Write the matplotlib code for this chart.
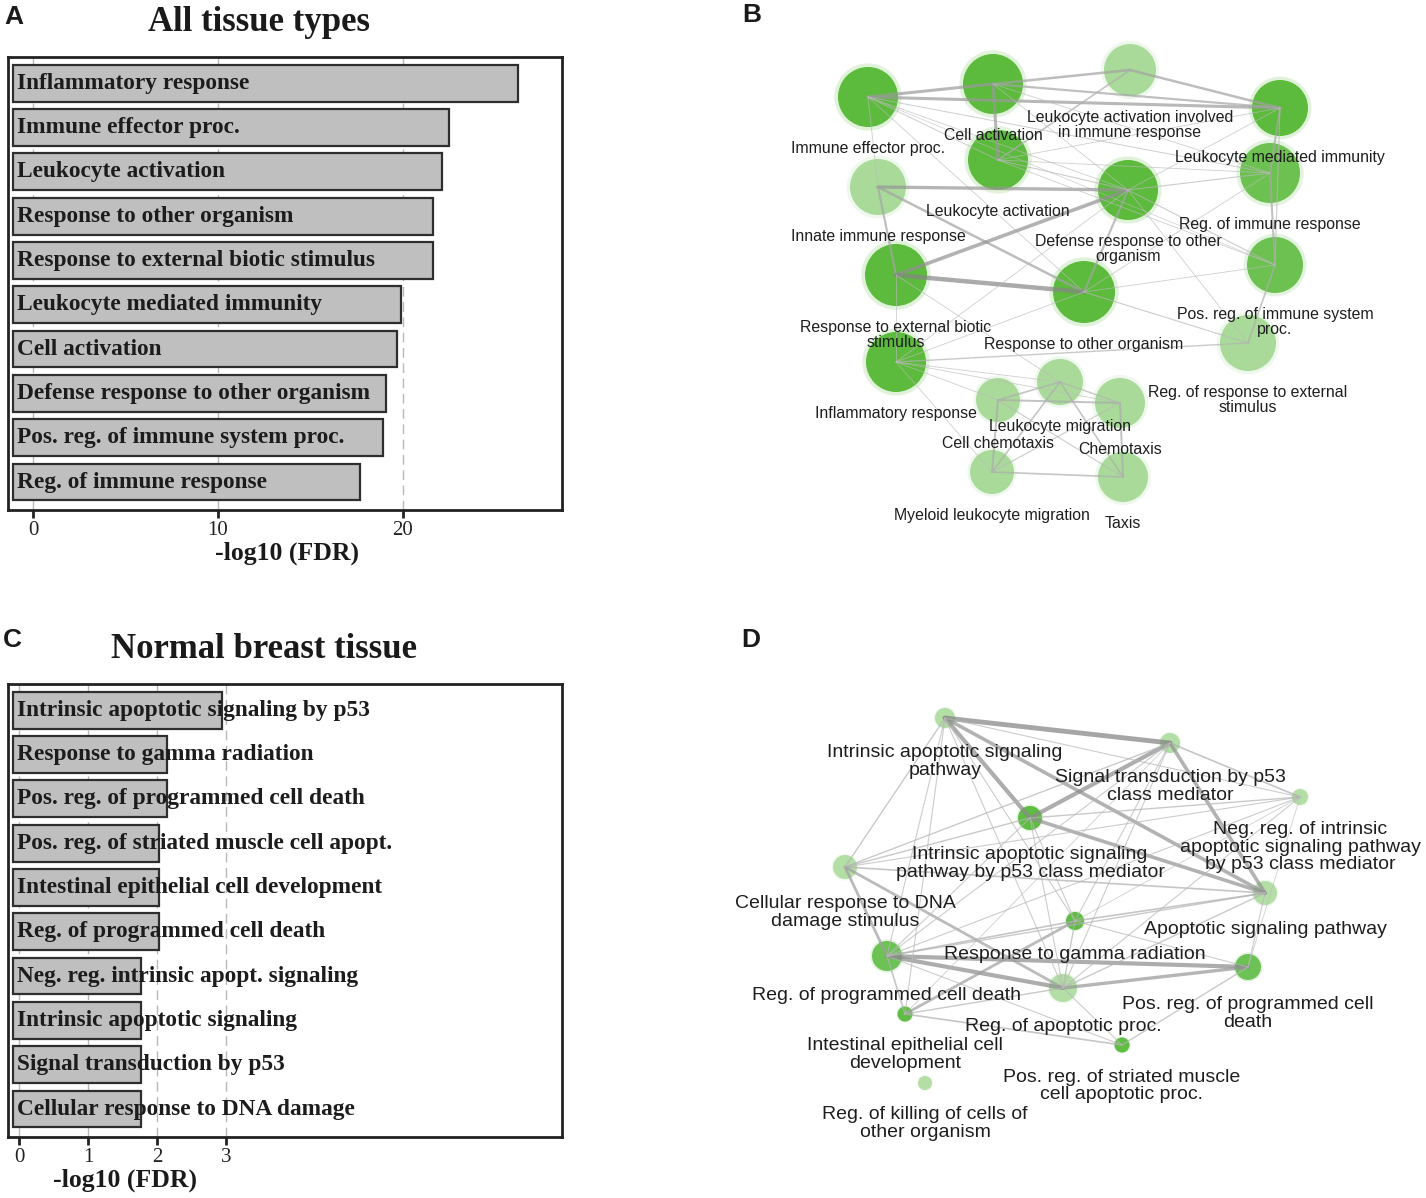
import numpy as np
import matplotlib
matplotlib.use("Agg")
import matplotlib.pyplot as plt
from matplotlib.patches import Circle

# ---------------- data ----------------
a_terms = ["Inflammatory response", "Immune effector proc.", "Leukocyte activation",
           "Response to other organism", "Response to external biotic stimulus",
           "Leukocyte mediated immunity", "Cell activation",
           "Defense response to other organism", "Pos. reg. of immune system proc.",
           "Reg. of immune response"]
a_values = [26.2, 22.5, 22.1, 21.6, 21.6, 19.9, 19.7, 19.1, 18.9, 17.7]
a_ticks = [0, 10, 20]

c_terms = ["Intrinsic apoptotic signaling by p53", "Response to gamma radiation",
           "Pos. reg. of programmed cell death", "Pos. reg. of striated muscle cell apopt.",
           "Intestinal epithelial cell development", "Reg. of programmed cell death",
           "Neg. reg. intrinsic apopt. signaling", "Intrinsic apoptotic signaling",
           "Signal transduction by p53", "Cellular response to DNA damage"]
c_values = [2.94, 2.14, 2.14, 2.03, 2.03, 2.03, 1.77, 1.77, 1.77, 1.77]
c_ticks = [0, 1, 2, 3]

# network B (layout in figure pixels)
b_labels = ["Immune effector proc.", "Cell activation",
            "Leukocyte activation involved\nin immune response",
            "Leukocyte mediated immunity", "Leukocyte activation",
            "Innate immune response", "Defense response to other\norganism",
            "Reg. of immune response", "Pos. reg. of immune system\nproc.",
            "Reg. of response to external\nstimulus",
            "Response to external biotic\nstimulus", "Response to other organism",
            "Inflammatory response", "Leukocyte migration", "Cell chemotaxis",
            "Chemotaxis", "Myeloid leukocyte migration", "Taxis"]
b_x = [868, 993, 1130, 1280, 998, 878, 1128, 1270, 1275, 1248, 896, 1084, 896, 1060, 998, 1120, 992, 1123]
b_y = [97, 84, 70, 108, 160, 187, 190, 173, 265, 343, 275, 292, 362, 382, 400, 403, 472, 477]
b_r = [30, 30, 26, 28, 30, 28, 30, 30, 28, 28, 31, 31, 30, 23, 22, 25, 22, 25]
b_shade = [0, 0, 2, 0, 0, 2, 0, 1, 1, 2, 0, 0, 0, 2, 2, 2, 2, 2]
b_edges = [(0, 1, 2.2), (0, 3, 2.2), (0, 7, 0.7), (0, 4, 0.7), (0, 6, 0.6), (0, 5, 0.6),
           (0, 11, 0.6), (0, 8, 0.5), (1, 2, 1.8), (1, 3, 1.6), (1, 4, 2.2), (2, 3, 1.8),
           (2, 4, 1.2), (3, 7, 1.5), (7, 8, 1.5), (8, 9, 1.2), (3, 8, 0.8), (5, 6, 2.4),
           (5, 11, 1.8), (5, 10, 1.6), (10, 6, 2.6), (10, 11, 3.2), (6, 11, 1.6),
           (12, 9, 1.0), (4, 6, 0.8), (4, 7, 0.6), (4, 3, 0.6), (4, 8, 0.6), (1, 6, 0.6),
           (1, 7, 0.6), (6, 7, 0.8), (6, 8, 0.8), (6, 3, 0.6), (6, 9, 0.6), (11, 8, 0.6),
           (11, 7, 0.6), (11, 9, 0.8), (10, 13, 0.6), (12, 13, 0.6), (12, 14, 0.6),
           (12, 15, 0.6), (12, 16, 0.6), (12, 11, 0.6), (12, 6, 0.6), (10, 12, 0.6),
           (14, 15, 1.4), (14, 16, 1.4), (15, 17, 1.4), (16, 17, 1.2), (13, 14, 1.2),
           (13, 16, 1.2), (13, 17, 1.2), (13, 15, 1.0), (14, 17, 0.8), (16, 15, 0.8)]

# network D (layout in figure pixels)
d_labels = ["Intrinsic apoptotic signaling\npathway", "Signal transduction by p53\nclass mediator",
            "Neg. reg. of intrinsic\napoptotic signaling pathway\nby p53 class mediator",
            "Intrinsic apoptotic signaling\npathway by p53 class mediator",
            "Cellular response to DNA\ndamage stimulus", "Apoptotic signaling pathway",
            "Response to gamma radiation", "Reg. of programmed cell death",
            "Pos. reg. of programmed cell\ndeath", "Reg. of apoptotic proc.",
            "Intestinal epithelial cell\ndevelopment",
            "Pos. reg. of striated muscle\ncell apoptotic proc.",
            "Reg. of killing of cells of\nother organism"]
d_x = [945, 1170, 1300, 1030, 845, 1265, 1075, 887, 1248, 1063, 905, 1122, 925]
d_y = [718, 743, 797, 818, 867, 893, 921, 956, 967, 988, 1014, 1045, 1083]
d_r = [10, 10, 8, 12, 12, 12, 9, 15, 13, 14, 7.5, 7.5, 7]
d_shade = [2, 2, 2, 0, 2, 2, 0, 1, 1, 2, 0, 0, 2]
d_edges = [(0, 1, 3.5), (0, 3, 3.0), (0, 5, 2.6), (1, 3, 3.0), (1, 5, 2.6), (3, 5, 2.6),
           (1, 2, 1.2), (3, 2, 1.0), (7, 8, 3.0), (7, 9, 3.0), (9, 8, 2.4), (4, 7, 2.0),
           (4, 9, 2.0), (10, 6, 2.0), (7, 10, 1.2), (10, 9, 1.0), (10, 11, 1.2), (11, 8, 1.0),
           (6, 9, 1.0), (6, 5, 1.2), (6, 7, 1.2), (4, 0, 1.0), (4, 1, 1.0), (4, 3, 1.0),
           (4, 2, 0.8), (4, 5, 1.2), (0, 7, 0.8), (0, 10, 0.8), (0, 6, 0.8), (0, 9, 0.8),
           (1, 7, 0.8), (1, 6, 0.8), (1, 9, 0.8), (1, 10, 0.6), (2, 9, 0.8), (2, 7, 0.8),
           (2, 6, 0.6), (2, 8, 0.6), (3, 6, 0.8), (3, 9, 0.8), (3, 7, 0.8), (5, 7, 1.0),
           (5, 9, 1.0), (5, 8, 0.8), (6, 8, 0.8), (9, 11, 0.8), (7, 11, 0.8), (0, 2, 0.8)]

# ---------------- figure ----------------
W, H = 1426, 1198
fig = plt.figure(figsize=(W / 100, H / 100), dpi=100)
SERIF = "Liberation Serif"
SANS = "Liberation Sans"


def px_rect(x0, y0, x1, y1):
    return [x0 / W, 1 - y1 / H, (x1 - x0) / W, (y1 - y0) / H]


def bar_panel(rect, terms, values, xlim, base, ticks, title, title_x):
    ax = fig.add_axes(rect)
    y = np.arange(len(terms))
    for t in ticks:
        ax.axvline(t, color="#b8b8b8", lw=1.0, ls=(0, (7, 4)), zorder=0)
    ax.barh(y, np.array(values) - base, left=base, height=0.83, color="#bfbfbf",
            edgecolor="#2e2e2e", lw=1.6, zorder=2)
    for yi, t in zip(y, terms):
        ax.annotate(t, (base, yi), xytext=(3, 0), textcoords="offset points",
                    va="center", ha="left", fontsize=16.8, fontweight="bold",
                    family=SERIF, color="#1c1c1c", zorder=3, annotation_clip=False)
    ax.set_xlim(xlim)
    ax.set_ylim(len(terms) - 0.37, -0.59)
    ax.set_yticks([])
    ax.set_xticks(ticks)
    ax.set_xticklabels([str(t) for t in ticks], family=SERIF, fontsize=15, color="#222222")
    ax.tick_params(axis="x", direction="out", length=6, width=2, pad=2, color="#222222")
    for s in ax.spines.values():
        s.set_linewidth(2.0)
        s.set_color("#222222")
    ax.text(title_x, 1.076, title, transform=ax.transAxes, ha="center", va="center",
            fontsize=25, fontweight="bold", family=SERIF, color="#1a1a1a")
    return ax


bar_panel(px_rect(8, 57, 562, 510), a_terms, a_values, (-1.35, 28.6), -1.08, a_ticks,
          "All tissue types", 0.453)
fig.text(287 / W, 1 - 553 / H, "-log10 (FDR)", ha="center", va="center", fontsize=18.5,
         fontweight="bold", family=SERIF, color="#1a1a1a")

bar_panel(px_rect(8, 684, 562, 1137), c_terms, c_values, (-0.16, 7.87), -0.09, c_ticks,
          "Normal breast tissue", 0.462)
fig.text(125 / W, 1 - 1180 / H, "-log10 (FDR)", ha="center", va="center", fontsize=18.5,
         fontweight="bold", family=SERIF, color="#1a1a1a")

# ---------------- networks ----------------
net = fig.add_axes([0, 0, 1, 1], zorder=-1)
net.set_xlim(0, W)
net.set_ylim(H, 0)
net.axis("off")

B_COLORS = ["#5cba3c", "#6cc150", "#a9da9a"]
D_COLORS = ["#5fbd44", "#6cc255", "#b3dea6"]


def draw_net(xs, ys, rs, shades, labels, edges, colors, fsize, gap, lsp):
    for x, y, r, s in zip(xs, ys, rs, shades):
        net.add_patch(Circle((x, y), r * 1.12, color=colors[s], alpha=0.18, lw=0, zorder=2))
        net.add_patch(Circle((x, y), r, color=colors[s], lw=0, zorder=3))
    for i, j, w in edges:
        g = 0.78 - 0.08 * min(w, 3.5)
        net.plot([xs[i], xs[j]], [ys[i], ys[j]], color=(g, g, g), lw=w, alpha=0.7,
                 zorder=4, solid_capstyle="round")
    for x, y, r, lab in zip(xs, ys, rs, labels):
        net.text(x, y + r + gap, lab, ha="center", va="top", fontsize=fsize, family=SANS,
                 color="#1e1e1e", linespacing=lsp, zorder=5)


draw_net(b_x, b_y, b_r, b_shade, b_labels, b_edges, B_COLORS, 11.4, 14, 1.0)
draw_net(d_x, d_y, d_r, d_shade, d_labels, d_edges, D_COLORS, 14.0, 16, 1.05)

# panel letters
for lab, x, y in [("A", 14, 17), ("B", 752, 15), ("C", 12, 640), ("D", 751, 640)]:
    fig.text(x / W, 1 - y / H, lab, ha="center", va="center", fontsize=19,
             fontweight="bold", family=SANS, color="#1a1a1a")

fig.savefig("out.png", dpi=100, facecolor="white")
